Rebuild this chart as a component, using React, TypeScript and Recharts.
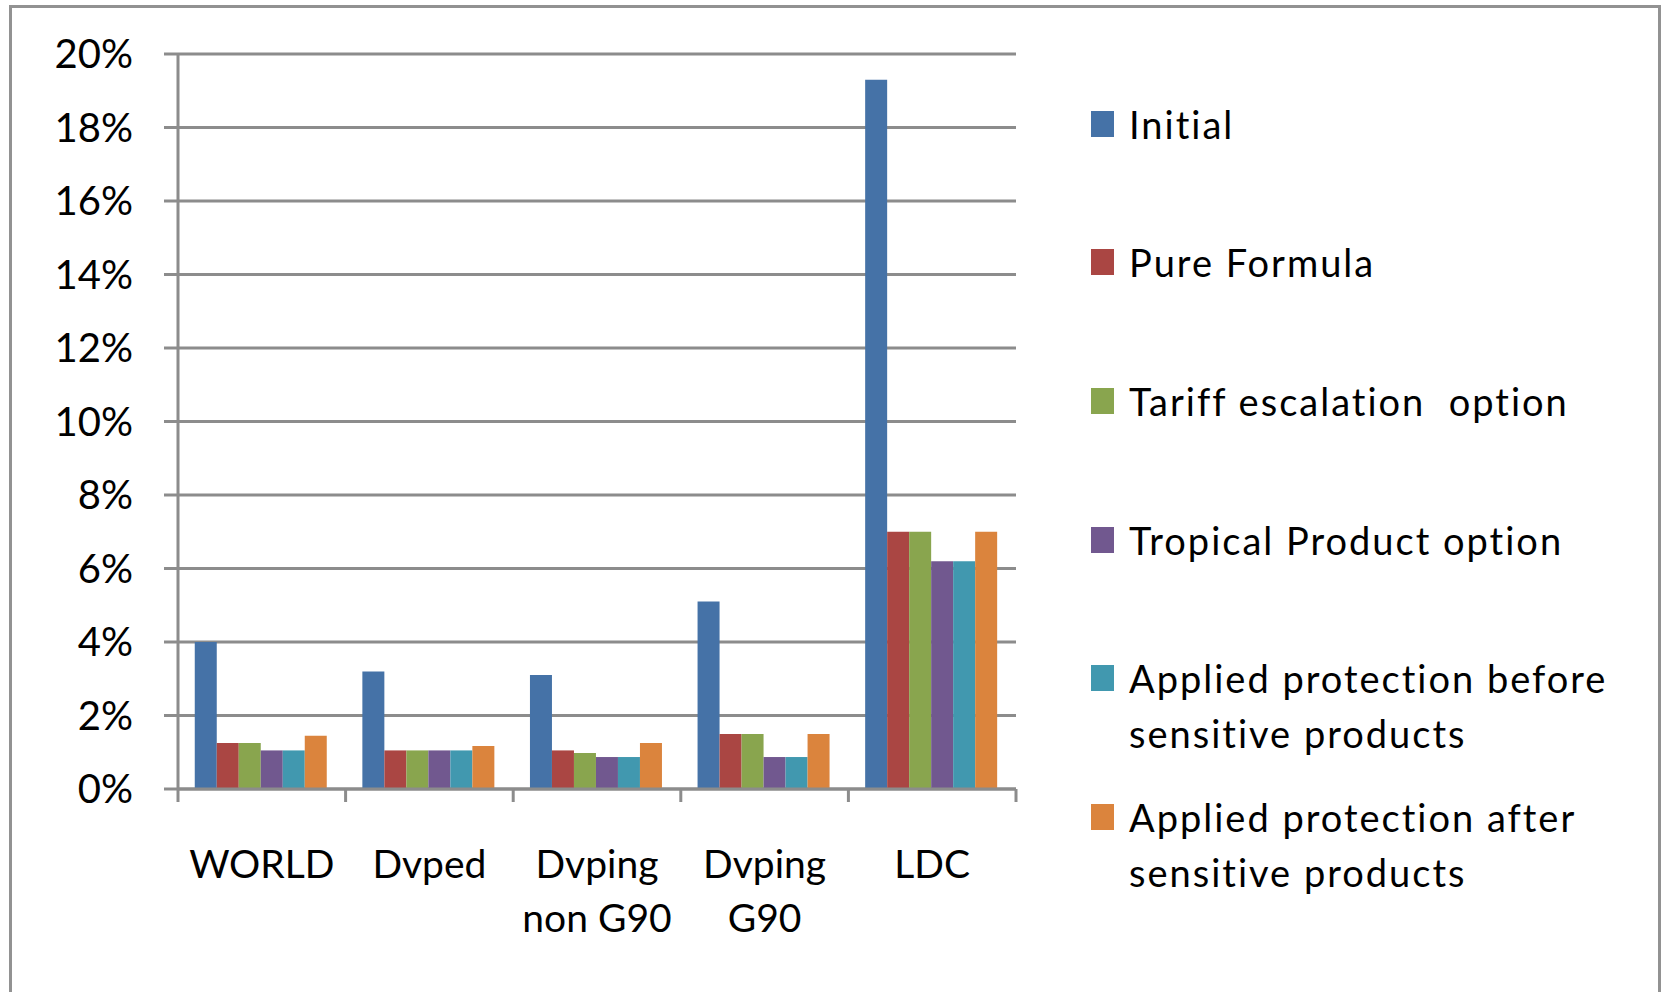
import React from 'react';
import { BarChart, Bar, XAxis, YAxis, CartesianGrid } from 'recharts';

const categories = ['WORLD', 'Dvped', 'Dvping\nnon G90', 'Dvping\nG90', 'LDC'];

const seriesNames = [
  'Initial',
  'Pure Formula',
  'Tariff escalation  option',
  'Tropical Product option',
  'Applied protection before\nsensitive products',
  'Applied protection after\nsensitive products',
];

const seriesColors = ['#4572A7', '#AA4643', '#89A54E', '#71588F', '#4198AF', '#DB843D'];

// values in percent, one array per series, in category order
const initial = [4.0, 3.2, 3.1, 5.1, 19.3];
const pureFormula = [1.25, 1.05, 1.05, 1.5, 7.0];
const tariffEscalation = [1.25, 1.05, 0.98, 1.5, 7.0];
const tropicalProduct = [1.05, 1.05, 0.87, 0.87, 6.2];
const appliedBefore = [1.05, 1.05, 0.87, 0.87, 6.2];
const appliedAfter = [1.45, 1.17, 1.25, 1.5, 7.0];

const yTicks = [0, 2, 4, 6, 8, 10, 12, 14, 16, 18, 20];

const seriesValues = [initial, pureFormula, tariffEscalation, tropicalProduct, appliedBefore, appliedAfter];
const keys = ['s0', 's1', 's2', 's3', 's4', 's5'];

const data = categories.map((name, i) => {
  const row: Record<string, string | number> = { name };
  keys.forEach((k, j) => {
    row[k] = seriesValues[j][i];
  });
  return row;
});

const WIDTH = 1661;
const HEIGHT = 992;
const MARGIN = { top: 54, right: 645, bottom: 83, left: 0 };
const Y_AXIS_W = 178;
const PLOT_W = WIDTH - MARGIN.left - MARGIN.right - Y_AXIS_W;
const BAND = PLOT_W / categories.length;

const GRID = '#8c8c8c';
const FONT = 'Lato, "Open Sans", sans-serif';

// category label plus Excel-style tick marks on the band edges
const CategoryTick = (props: any) => {
  const { x, y, payload, index } = props;
  const lines = String(payload.value).split('\n');
  const half = BAND / 2;
  return (
    <g>
      <line x1={x - half} x2={x - half} y1={y} y2={y + 13} stroke={GRID} strokeWidth={3} />
      {index === categories.length - 1 && (
        <line x1={x + half} x2={x + half} y1={y} y2={y + 13} stroke={GRID} strokeWidth={3} />
      )}
      {lines.map((t, i) => (
        <text
          key={i}
          x={x}
          y={y + 89 + i * 54}
          textAnchor="middle"
          fontSize={39}
          fontFamily={FONT}
          fill="#000"
        >
          {t}
        </text>
      ))}
    </g>
  );
};

const LEGEND_CENTER = 125;
const LEGEND_STEP = 138.7;

export default function App() {
  return (
    <div
      style={{
        position: 'absolute',
        left: 0,
        top: 0,
        width: WIDTH,
        height: HEIGHT,
        background: '#fff',
        overflow: 'hidden',
      }}
    >
      <div
        style={{
          position: 'absolute',
          left: 9,
          top: 5,
          width: 1658 - 9 - 3,
          height: HEIGHT,
          borderLeft: '3px solid #929292',
          borderTop: '3px solid #929292',
          borderRight: '3px solid #929292',
        }}
      />
      <div style={{ position: 'absolute', left: 0, top: 0 }}>
        <BarChart
          width={WIDTH}
          height={HEIGHT}
          data={data}
          margin={MARGIN}
          barCategoryGap="10%"
          barGap={0}
        >
          <CartesianGrid vertical={false} stroke={GRID} strokeWidth={3} />
          <XAxis
            dataKey="name"
            height={120}
            interval={0}
            axisLine={{ stroke: GRID, strokeWidth: 3 }}
            tickLine={false}
            tickSize={0}
            tickMargin={0}
            tick={<CategoryTick />}
          />
          <YAxis
            width={Y_AXIS_W}
            domain={[0, 20]}
            ticks={yTicks}
            interval={0}
            tickFormatter={(v: number) => `${v}%`}
            axisLine={{ stroke: GRID, strokeWidth: 3 }}
            tickLine={{ stroke: GRID, strokeWidth: 3 }}
            tickSize={14}
            tickMargin={31}
            tick={{ fontSize: 40, fontFamily: FONT, fill: '#000' }}
          />
          {keys.map((k, j) => (
            <Bar key={k} dataKey={k} name={seriesNames[j]} fill={seriesColors[j]} isAnimationActive={false} />
          ))}
        </BarChart>
      </div>
      {seriesNames.map((name, j) => (
        <div
          key={name}
          style={{
            position: 'absolute',
            left: 1091,
            top: LEGEND_CENTER + j * LEGEND_STEP - 28.5,
            fontFamily: FONT,
            fontSize: 38,
            letterSpacing: '2px',
            lineHeight: '55px',
            color: '#000',
            whiteSpace: 'pre',
          }}
        >
          <div
            style={{
              position: 'absolute',
              left: 0,
              top: 14,
              width: 23,
              height: 26,
              background: seriesColors[j],
            }}
          />
          <div style={{ marginLeft: 38 }}>{name}</div>
        </div>
      ))}
    </div>
  );
}
